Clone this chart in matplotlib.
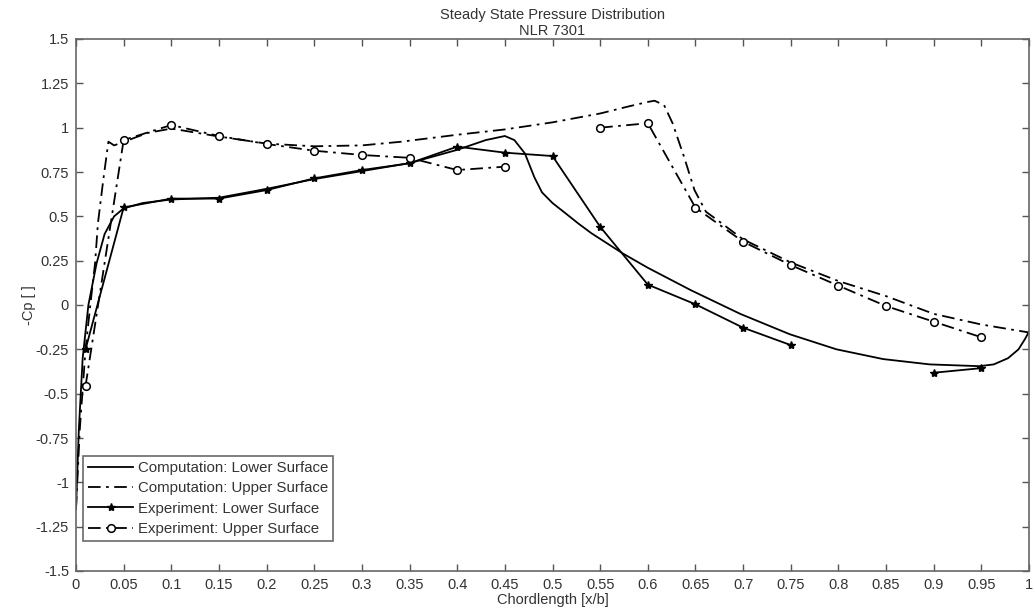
import numpy as np
import matplotlib
matplotlib.use("Agg")
import matplotlib.pyplot as plt

# ---------------- data ----------------
comp_lower_x = [0.0, 0.003, 0.007, 0.013, 0.0216, 0.03, 0.04, 0.05, 0.07, 0.1, 0.15, 0.2, 0.25,
                0.3, 0.35, 0.4, 0.43, 0.45, 0.46, 0.471, 0.481, 0.489, 0.5, 0.513, 0.527, 0.541,
                0.574, 0.6, 0.645, 0.697, 0.749, 0.798, 0.847, 0.896, 0.948, 0.963, 0.978,
                0.989, 0.996, 1.0]
comp_lower_y = [-1.15, -0.7, -0.3, 0.0, 0.235, 0.40, 0.50, 0.545, 0.575, 0.595, 0.605, 0.655, 0.71,
                0.755, 0.80, 0.875, 0.93, 0.953, 0.93, 0.855, 0.72, 0.635, 0.575, 0.52, 0.46, 0.404,
                0.29, 0.21, 0.084, -0.05, -0.165, -0.25, -0.305, -0.335, -0.345, -0.335, -0.3,
                -0.25, -0.19, -0.15]

comp_upper_x = [0.0, 0.004, 0.01, 0.015, 0.02, 0.023, 0.0286, 0.034, 0.04, 0.05, 0.075, 0.1,
                0.15, 0.2, 0.25, 0.3, 0.34, 0.4, 0.45, 0.5, 0.55, 0.58, 0.6, 0.607, 0.617,
                0.626, 0.638, 0.649, 0.661, 0.673, 0.7, 0.75, 0.8, 0.85, 0.9, 0.95, 1.0]
comp_upper_y = [-1.15, -0.7, -0.25, 0.0, 0.235, 0.46, 0.705, 0.921, 0.90, 0.92, 0.97, 0.995,
                0.95, 0.91, 0.895, 0.90, 0.92, 0.96, 0.99, 1.03, 1.08, 1.12, 1.145, 1.152, 1.128,
                1.025, 0.836, 0.648, 0.526, 0.479, 0.37, 0.24, 0.135, 0.05, -0.05, -0.11, -0.155]

exp_lower_x = [0.01, 0.05, 0.1, 0.15, 0.2, 0.25, 0.3, 0.35, 0.4, 0.45, 0.5, 0.55, 0.6, 0.65,
               0.7, 0.75, 0.8, 0.9, 0.95]
exp_lower_y = [-0.25, 0.55, 0.6, 0.6, 0.648, 0.714, 0.761, 0.799, 0.893, 0.859, 0.84, 0.441,
               0.115, 0.004, -0.128, -0.226, np.nan, -0.382, -0.356]

exp_upper_x = [0.01, 0.05, 0.1, 0.15, 0.2, 0.25, 0.3, 0.35, 0.4, 0.45, 0.5, 0.55, 0.6, 0.65,
               0.7, 0.75, 0.8, 0.85, 0.9, 0.95]
exp_upper_y = [-0.457, 0.93, 1.015, 0.953, 0.908, 0.87, 0.846, 0.83, 0.761, 0.78, np.nan, 1.0,
               1.025, 0.549, 0.357, 0.225, 0.109, -0.006, -0.094, -0.182]

labels = ["Computation: Lower Surface", "Computation: Upper Surface",
          "Experiment: Lower Surface", "Experiment: Upper Surface"]
xticks = np.round(np.arange(0, 1.0001, 0.05), 2)
yticks = np.round(np.arange(-1.5, 1.5001, 0.25), 2)

# ---------------- plot ----------------
plt.rcParams['font.family'] = ['Liberation Sans', 'DejaVu Sans']
txt = '#333333'
fig = plt.figure(figsize=(10.35, 6.11), dpi=100)
L, R, T, B = 76, 1029, 39, 571
ax = fig.add_axes([L/1035, 1-B/611, (R-L)/1035, (B-T)/611])

dashdot = (0, (7, 3, 1.5, 3))
lw = 1.3
ax.plot(comp_lower_x, comp_lower_y, color='black', lw=lw, ls='-', label=labels[0])
ax.plot(comp_upper_x, comp_upper_y, color='black', lw=lw, ls=dashdot, label=labels[1])
ax.plot(exp_lower_x, exp_lower_y, color='black', lw=lw, ls='-', marker='*', ms=6,
        mfc='black', mec='black', label=labels[2])
ax.plot(exp_upper_x, exp_upper_y, color='black', lw=lw, ls=dashdot, marker='o', ms=5.5,
        mfc='white', mec='black', mew=1.1, label=labels[3])

ax.set_xlim(0, 1)
ax.set_ylim(-1.5, 1.5)
ax.set_xticks(xticks)
ax.set_xticklabels([('%g' % t) for t in xticks])
ax.set_yticks(yticks)
ax.set_yticklabels([('%g' % t) for t in yticks])
ax.tick_params(direction='in', length=5, width=1, top=True, right=True,
               labelsize=10.5, colors='#555555', labelcolor=txt, pad=5)
for s in ax.spines.values():
    s.set_color('#666666')
    s.set_linewidth(1.2)

ax.set_title("Steady State Pressure Distribution\nNLR 7301", fontsize=10.5, color=txt,
             pad=3, linespacing=1.15)
ax.set_xlabel("Chordlength [x/b]", fontsize=10.5, color=txt, labelpad=1)
ax.set_ylabel("-Cp [ ]", fontsize=10.5, color=txt)
ax.yaxis.set_label_coords((36 - L) / (R - L), 0.5)

leg = ax.legend(loc='lower left', bbox_to_anchor=(0.0073, 0.056), borderaxespad=0,
                fontsize=10.8, frameon=True, fancybox=False, handlelength=3.0,
                handletextpad=0.3, labelspacing=0.42, borderpad=0.35)
leg.get_frame().set_edgecolor('#444444')
leg.get_frame().set_linewidth(1.2)
for t in leg.get_texts():
    t.set_color(txt)

fig.savefig('out.png', dpi=100)
